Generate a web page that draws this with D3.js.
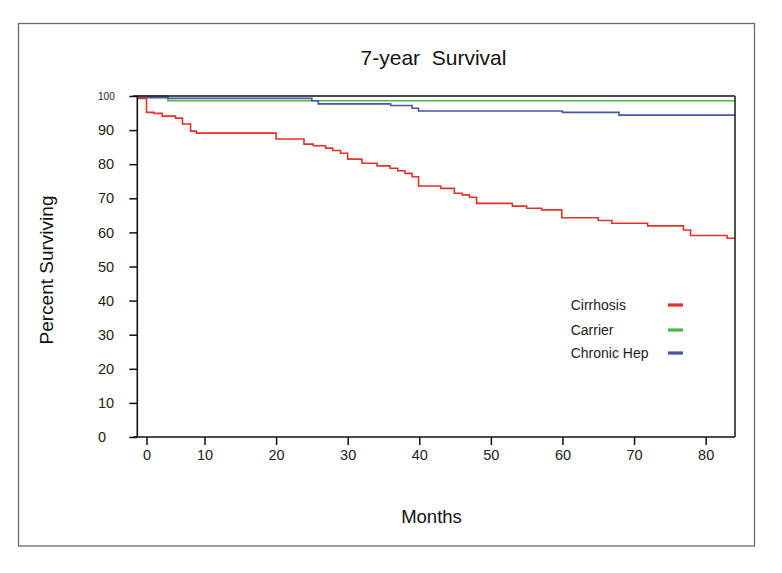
<!DOCTYPE html>
<html>
<head>
<meta charset="utf-8">
<script src="https://cdn.jsdelivr.net/npm/d3@7"></script>
<style>
  html, body { margin: 0; padding: 0; background: #fff; }
  svg { display: block; font-family: "Liberation Sans", Arial, Helvetica, sans-serif; }
</style>
</head>
<body>
<svg id="chart" width="782" height="573"></svg>
<script>
// ---- data ----
const seriesNames = ["Cirrhosis", "Carrier", "Chronic Hep"];
const seriesColors = ["#e2322d", "#4cb848", "#4655a4"];

const cirrhosisMonths = [-1.6, 0, 1.3, 2.7, 5.0, 6.2, 7.6, 8.6, 20.0, 23.9, 25.2, 26.9, 27.9, 29.0, 30.0, 32.0, 34.1, 35.9, 37.0, 38.0, 39.0, 39.9, 43.0, 44.9, 46.0, 47.0, 48.0, 53.0, 55.0, 57.1, 59.9, 65.0, 66.9, 71.9, 76.9, 77.9, 83.0, 84.1];
const cirrhosisPct    = [99.3, 95.2, 94.9, 94.1, 93.5, 91.8, 89.7, 89.1, 87.4, 85.9, 85.4, 84.7, 84.0, 83.2, 81.5, 80.3, 79.5, 78.8, 78.1, 77.3, 76.3, 73.6, 72.9, 71.5, 71.0, 70.3, 68.5, 67.7, 67.1, 66.6, 64.3, 63.5, 62.7, 61.9, 60.7, 59.1, 58.3, 58.3];

const carrierMonths = [-1.6, 3.7, 84.1];
const carrierPct    = [100, 98.6, 98.6];

const chronicMonths = [-1.6, 3.7, 25.0, 25.9, 36.0, 39.0, 39.9, 60.0, 67.9, 84.1];
const chronicPct    = [99.5, 99.3, 98.6, 97.7, 97.2, 96.4, 95.6, 95.2, 94.4, 94.4];

const xTickValues = [0, 10, 20, 30, 40, 50, 60, 70, 80];
const yTickValues = [0, 10, 20, 30, 40, 50, 60, 70, 80, 90, 100];

const titleText = "7-year  Survival";
const xLabel = "Months";
const yLabel = "Percent Surviving";

// ---- layout ----
const svg = d3.select("#chart");
const plotLeft = 137.3, plotRight = 735, plotTop = 96, plotBottom = 437;

const x = d3.scaleLinear().domain([-1.6, 0, 10, 84.1]).range([plotLeft, 146.5, 204.5, plotRight]);
const y = d3.scaleLinear().domain([0, 100]).range([plotBottom, plotTop]);

// outer border
svg.append("rect")
  .attr("x", 18.5).attr("y", 23.5).attr("width", 736).attr("height", 522.5)
  .attr("fill", "none").attr("stroke", "#6a6a6a").attr("stroke-width", 1.3);

// title
svg.append("text")
  .attr("x", 433.5).attr("y", 65)
  .attr("text-anchor", "middle")
  .attr("font-size", 21).attr("fill", "#111")
  .style("white-space", "pre")
  .text(titleText);

// axes
const yAxis = d3.axisLeft(y).tickValues(yTickValues).tickSize(8).tickFormat(d3.format("d"));
const gy = svg.append("g").attr("transform", `translate(${plotLeft},0)`).call(yAxis);
gy.select(".domain").remove();
gy.selectAll(".tick line").attr("stroke", "#111").attr("stroke-width", 1.5);
gy.selectAll(".tick text")
  .attr("x", 98 - plotLeft).attr("text-anchor", "start")
  .attr("font-size", d => d === 100 ? 10 : 14.5)
  .attr("fill", "#222")
  .attr("font-family", "Liberation Sans, Arial, sans-serif");

const xAxis = d3.axisBottom(x).tickValues(xTickValues).tickSize(8).tickPadding(5).tickFormat(d3.format("d"));
const gx = svg.append("g").attr("transform", `translate(0,${plotBottom})`).call(xAxis);
gx.select(".domain").remove();
gx.selectAll(".tick line").attr("stroke", "#111").attr("stroke-width", 1.5);
gx.selectAll(".tick text")
  .attr("font-size", 14.5).attr("fill", "#222")
  .attr("font-family", "Liberation Sans, Arial, sans-serif");

// survival curves
const line = d3.line().x(d => x(d[0])).y(d => y(d[1])).curve(d3.curveStepAfter);
const series = [
  { name: "Carrier", color: seriesColors[1], pts: d3.zip(carrierMonths, carrierPct) },
  { name: "Chronic Hep", color: seriesColors[2], pts: d3.zip(chronicMonths, chronicPct) },
  { name: "Cirrhosis", color: seriesColors[0], pts: d3.zip(cirrhosisMonths, cirrhosisPct) }
];
svg.append("g").selectAll("path").data(series).join("path")
  .attr("d", d => line(d.pts))
  .attr("fill", "none")
  .attr("stroke", d => d.color)
  .attr("stroke-width", 1.6);

// frame lines (drawn over the curves)
const frame = svg.append("g").attr("stroke-width", 1.6).attr("fill", "none");
frame.append("line").attr("x1", plotLeft).attr("x2", plotLeft).attr("y1", y(100)).attr("y2", plotBottom).attr("stroke", "#111");
frame.append("line").attr("x1", 133).attr("x2", plotRight).attr("y1", plotBottom).attr("y2", plotBottom).attr("stroke", "#111");
frame.append("line").attr("x1", 133).attr("x2", plotRight).attr("y1", y(100)).attr("y2", y(100)).attr("stroke", "#111");
frame.append("line").attr("x1", plotRight).attr("x2", plotRight).attr("y1", y(100)).attr("y2", plotBottom).attr("stroke", "#1d2a1d");

// axis labels
svg.append("text")
  .attr("x", 431.5).attr("y", 523)
  .attr("text-anchor", "middle").attr("font-size", 18.5).attr("fill", "#111")
  .text(xLabel);
svg.append("text")
  .attr("transform", "translate(53.3,270) rotate(-90)")
  .attr("text-anchor", "middle").attr("font-size", 19).attr("fill", "#111")
  .text(yLabel);

// legend
const legendY = [310, 335, 358];
const legend = svg.append("g").selectAll("g").data(seriesNames).join("g")
  .attr("transform", (d, i) => `translate(0,${legendY[i]})`);
legend.append("text")
  .attr("x", 570.7).attr("y", 0)
  .attr("font-size", 14).attr("fill", "#222")
  .text(d => d);
legend.append("line")
  .attr("x1", 668).attr("x2", 683).attr("y1", -5).attr("y2", -5)
  .attr("stroke", (d, i) => seriesColors[i]).attr("stroke-width", 3.2);
</script>
</body>
</html>
